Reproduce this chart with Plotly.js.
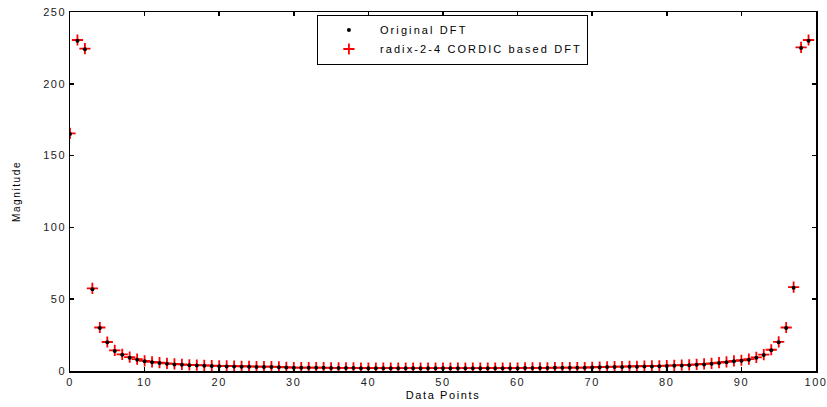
<!DOCTYPE html>
<html>
<head>
<meta charset="utf-8">
<script src="https://cdn.plot.ly/plotly-3.0.1.min.js"></script>
<style>
html,body{margin:0;padding:0;background:#fff;}
#chart{width:827px;height:407px;}
svg text{letter-spacing:1.6px;}
svg text.legendtext{letter-spacing:2.1px;}
</style>
</head>
<body>
<div id="chart"></div>
<script>
// Data point index
var dataPoints = [];
for (var i = 0; i < 100; i++) dataPoints.push(i);

// Original DFT magnitudes
var originalDFT = [
  165, 230, 224, 57, 30, 20, 14, 11.3, 9.3, 7.9,
  6.8, 6.1, 5.5, 5.0, 4.6, 4.3, 4.0, 3.8, 3.6, 3.4,
  3.3, 3.2, 3.1, 3.0, 2.9, 2.8, 2.7, 2.7, 2.6, 2.5,
  2.3, 2.3, 2.2, 2.2, 2.2, 2.1, 2.1, 2.1, 2.1, 2.0,
  2.0, 2.0, 2.0, 2.0, 1.9, 1.9, 1.9, 1.9, 1.9, 1.9,
  1.9, 1.9, 1.9, 1.9, 1.9, 1.9, 2.0, 2.0, 2.0, 2.0,
  2.0, 2.1, 2.1, 2.1, 2.1, 2.2, 2.2, 2.2, 2.3, 2.3,
  2.5, 2.6, 2.7, 2.7, 2.8, 2.9, 3.0, 3.1, 3.2, 3.3,
  3.4, 3.6, 3.8, 4.0, 4.3, 4.6, 5.0, 5.5, 6.1, 6.8,
  7.2, 7.9, 9.2, 11.1, 14.5, 20, 30, 58, 225, 230
];

// radix-2-4 CORDIC based DFT magnitudes
var cordicDFT = [
  165.5, 230.5, 224.5, 57.5, 30.3, 20.2, 14.3, 11.6, 9.6, 8.2,
  7.1, 6.4, 5.8, 5.3, 4.9, 4.6, 4.3, 4.1, 3.9, 3.7,
  3.6, 3.5, 3.4, 3.3, 3.2, 3.1, 3.0, 3.0, 2.9, 2.6,
  2.4, 2.4, 2.3, 2.3, 2.3, 2.2, 2.2, 2.2, 2.2, 2.1,
  2.1, 2.1, 2.1, 2.1, 2.0, 2.0, 2.0, 2.0, 2.0, 2.0,
  2.0, 2.0, 2.0, 2.0, 2.0, 2.0, 2.1, 2.1, 2.1, 2.1,
  2.1, 2.2, 2.2, 2.2, 2.2, 2.3, 2.3, 2.3, 2.4, 2.4,
  2.6, 2.8, 2.9, 3.0, 3.1, 3.2, 3.3, 3.4, 3.5, 3.6,
  3.7, 3.9, 4.1, 4.3, 4.6, 4.9, 5.3, 5.8, 6.4, 7.1,
  7.5, 8.2, 9.5, 11.4, 14.8, 20.3, 30.3, 58.4, 225.4, 230.5
];

var seriesNames = ['Original DFT', 'radix-2-4 CORDIC based DFT'];
var xTicks = [0, 10, 20, 30, 40, 50, 60, 70, 80, 90, 100];
var yTicks = [0, 50, 100, 150, 200, 250];

var traces = [
  {
    x: dataPoints, y: cordicDFT, name: seriesNames[1],
    type: 'scatter', mode: 'markers',
    marker: {symbol: 'cross-thin-open', size: 8, color: '#ff0000',
             line: {color: '#ff0000', width: 1.8}}
  },
  {
    x: dataPoints, y: originalDFT, name: seriesNames[0],
    type: 'scatter', mode: 'markers',
    marker: {symbol: 'circle', size: 4, color: '#000000'}
  }
];

var axisCommon = {
  showgrid: false, zeroline: false,
  showline: true, linecolor: '#000', linewidth: 1.5,
  mirror: 'ticks', ticks: 'inside', ticklen: 4, tickwidth: 1.5, tickcolor: '#000',
  ticklabeloverflow: 'allow',
  tickfont: {family: 'Liberation Sans, Arial, sans-serif', size: 11, color: '#222'}
};

var layout = {
  width: 827, height: 407,
  margin: {l: 70, r: 11, t: 12, b: 36},
  paper_bgcolor: '#fff', plot_bgcolor: '#fff',
  showlegend: true,
  font: {family: 'Liberation Sans, Arial, sans-serif', color: '#000'},
  xaxis: Object.assign({}, axisCommon, {
    range: [0, 100], tickvals: xTicks, ticktext: xTicks.map(String),
    title: {text: 'Data Points', font: {size: 11, color: '#000'}, standoff: 4}
  }),
  yaxis: Object.assign({}, axisCommon, {
    range: [0, 250], tickvals: yTicks, ticktext: yTicks.map(String),
    title: {text: 'Magnitude', font: {size: 10, color: '#000'}, standoff: 20}
  }),
  legend: {
    x: 0.331, y: 0.993, xanchor: 'left', yanchor: 'top',
    traceorder: 'reversed',
    bgcolor: '#fff', bordercolor: '#000', borderwidth: 1,
    font: {family: 'Liberation Sans, Arial, sans-serif', size: 11, color: '#000'},
    tracegroupgap: 0, itemwidth: 52
  }
};

Plotly.newPlot('chart', traces, layout, {displayModeBar: false, staticPlot: true});
</script>
</body>
</html>
